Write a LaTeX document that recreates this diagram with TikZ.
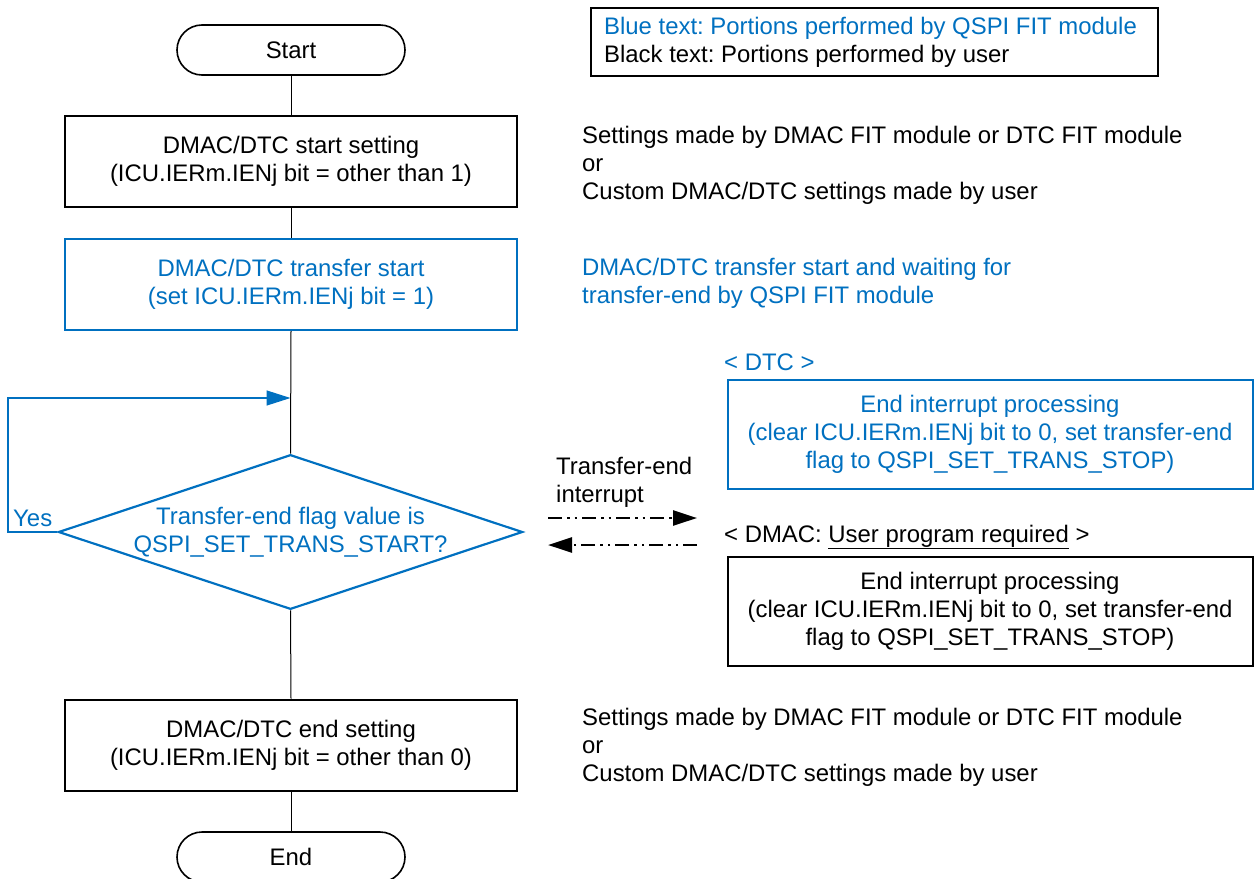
\documentclass[tikz,border=0pt]{standalone}
\usepackage{fontspec}
\setmainfont{Liberation Sans}
\usetikzlibrary{arrows.meta,shapes.geometric}
\definecolor{rblue}{HTML}{0070C0}
\frenchspacing
\begin{document}
\begin{tikzpicture}[x=1pt,y=-1pt,
  font=\fontsize{23.9}{28}\selectfont,
  term/.style={draw, line width=1.6pt, rounded corners=25pt, minimum width=228pt, minimum height=50pt, inner sep=0pt},
  proc/.style={draw, line width=2pt, minimum width=452pt, minimum height=91pt, align=center, inner sep=0pt},
  sidebox/.style={draw, line width=2pt, minimum width=525pt, minimum height=109pt, align=center, inner sep=0pt},
  dec/.style={draw=rblue, text=rblue, line width=2.2pt, diamond, aspect=3, minimum width=451pt, minimum height=150pt, inner sep=0pt, align=center},
  conn/.style={line width=1pt},
  note/.style={anchor=west, align=left, inner sep=0pt},
  ddot/.style={line width=2.6pt, dash pattern=on 14pt off 5pt on 2.5pt off 5pt on 2.5pt off 5pt},
  tip/.style={-{Triangle[length=24pt,width=15pt]}}
]
\useasboundingbox (0,0) rectangle (1255,878);

% legend
\node[draw, line width=1.8pt, minimum width=567pt, minimum height=68pt, inner sep=0pt] (legend) at (874.5,42) {};
\node[note] (legtext) at (604,42)
  {{\color{rblue}Blue text: Portions performed by QSPI FIT module}\\Black text: Portions performed by user};

% main flow
\node[term] (start) at (291,50) {Start};
\node[proc] (b1) at (291,161.5) {DMAC/DTC start setting\\(ICU.IERm.IENj bit = other than 1)};
\node[proc, draw=rblue, text=rblue] (b2) at (291,284.5) {DMAC/DTC transfer start\\(set ICU.IERm.IENj bit = 1)};
\node[dec] (dec) at (290.5,532) {Transfer-end flag value is\\QSPI\_SET\_TRANS\_START?};
\node[proc] (b3) at (291,745) {DMAC/DTC end setting\\(ICU.IERm.IENj bit = other than 0)};
\node[term] (end) at (291,857) {End};

\draw[conn] (start.south) -- (b1.north);
\draw[conn] (b1.south) -- (b2.north);
\draw[conn] (b2.south) -- (dec.north);
\draw[conn] (dec.south) -- (b3.north);
\draw[conn] (b3.south) -- (end.north);

% Yes loop
\coordinate (loopA) at (8,532);
\coordinate (join) at (290.5,398);
\draw[rblue, line width=1.3pt, tip] (dec.west) -- (loopA) |- (join);
\node[text=rblue, anchor=base west, inner sep=0pt] (yes) at (13,526) {Yes};

% side notes
\node[note] (n1) at (582,165) {Settings made by DMAC FIT module or DTC FIT module\\or\\Custom DMAC/DTC settings made by user};
\node[note, text=rblue] (n2) at (582,283) {DMAC/DTC transfer start and waiting for\\transfer-end by QSPI FIT module};
\node[note] (n3) at (582,747) {Settings made by DMAC FIT module or DTC FIT module\\or\\Custom DMAC/DTC settings made by user};

% interrupt side
\node[note, text=rblue] (dtcl) at (724,362) {< DTC >};
\node[sidebox, draw=rblue, text=rblue] (dtc) at (990,434) {End interrupt processing\\(clear ICU.IERm.IENj bit to 0, set transfer-end\\flag to QSPI\_SET\_TRANS\_STOP)};
\node[note] (dmacl) at (724,537) {< DMAC: \underline{User program required} >};
\node[sidebox] (dmac) at (990,611) {End interrupt processing\\(clear ICU.IERm.IENj bit to 0, set transfer-end\\flag to QSPI\_SET\_TRANS\_STOP)};

\node[note] (tel) at (556,482) {Transfer-end\\interrupt};
\coordinate (r1) at (548,518);
\coordinate (r2) at (697,518);
\coordinate (l1) at (697,545);
\coordinate (l2) at (548,545);
\draw[ddot, tip] (r1) -- (r2);
\draw[ddot, tip] (l1) -- (l2);
\end{tikzpicture}
\end{document}
